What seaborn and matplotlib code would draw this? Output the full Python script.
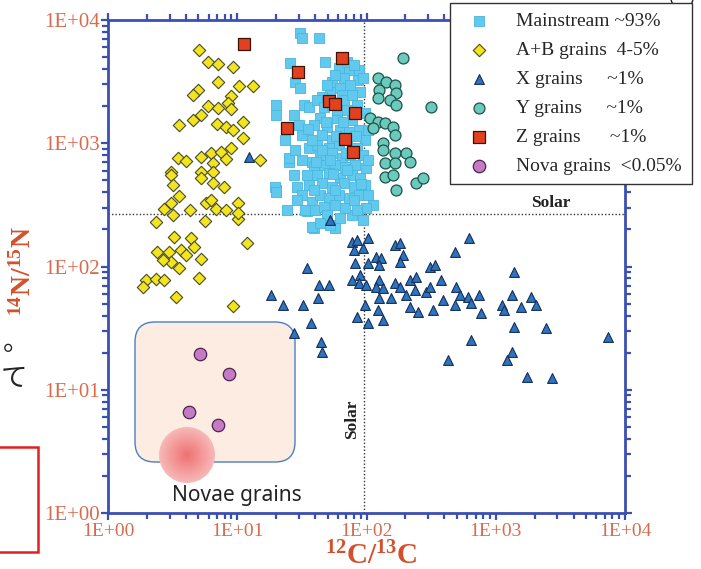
import matplotlib
matplotlib.use("Agg")
import matplotlib.pyplot as plt
import numpy as np
import pandas as pd
import seaborn as sns
from matplotlib.patches import FancyBboxPatch, Circle, Rectangle
from matplotlib.ticker import LogLocator, NullFormatter
from matplotlib.transforms import IdentityTransform

# 12C/13C and 14N/15N ratios, one pair of lists per grain type
mainstream_c = [30.4, 31.5, 43.0, 25.4, 47.9, 27.9, 30.4, 20.1, 20.1, 27.4, 32.8, 35.8,
                54.3, 61.6, 73.6, 67.3, 88.2, 86.6, 52.4, 45.3, 30.0, 25.0, 27.4, 20.1,
                37.8, 34.4, 39.2, 57.3, 112, 25.0, 27.9, 31.5, 39.2, 35.8, 19.5, 20.1,
                28.8, 31.5, 35.8, 37.8, 33.2, 39.9, 37.8, 52.4, 77.7, 98.3,
                57.3, 71.0, 80.5, 93.1, 49.7, 62.7, 75.0, 89.8,
                41.4, 47.0, 54.3, 64.9, 71.0, 85.1, 96.5, 43.7, 59.4, 77.7,
                39.2, 49.7, 62.7, 88.2, 45.3, 54.3, 71.0, 96.5, 41.4, 51.4, 61.6, 85.1,
                43.7, 54.3, 64.9, 75.0, 93.1, 47.0, 57.3, 68.5, 82.0, 98.3, 41.4, 51.4,
                62.7, 77.7, 89.8, 45.3, 54.3, 67.3, 80.5, 96.5, 43.7, 51.4, 61.6, 73.6,
                88.2, 47.0, 57.3, 68.5, 85.1, 62.7, 49.7, 93.1,
                23.3, 31.5, 34.4, 28.8, 24.1, 43.7, 59.4, 67.3, 77.7, 52.4, 71.0, 57.3,
                80.5, 102, 102, 102, 45.3, 37.8, 39.2,
                35.0, 48.5, 66.0, 58.0, 73.0, 83.5, 40.5, 55.5, 69.5, 91.0]
mainstream_n = [7810, 7110, 7110, 4470, 4550, 3130, 2800, 2035, 1690, 1690, 2035, 1960,
                3130, 4060, 3920, 3370, 3920, 3250, 2600, 2365, 1400, 703, 551, 417,
                703, 281, 205, 205, 315, 757, 879, 729, 640, 912, 441, 401,
                441, 379, 457, 333, 287, 287, 209, 217, 261, 298,
                3570, 4550, 4300, 3370, 2960, 2800, 2960, 2600,
                2240, 1960, 2035, 2455, 1855, 2035, 1755, 1600, 1600, 1540,
                1400, 1350, 1280, 1280, 1165, 1060, 1100, 1060, 966, 912, 966, 912,
                800, 832, 757, 800, 800, 664, 664, 640, 664, 628, 551, 572,
                521, 551, 521, 474, 441, 474, 441, 457, 379, 359, 379, 359,
                379, 303, 315, 298, 287, 247, 261, 238,
                1060, 1165, 551, 346, 287, 225, 1855, 2240, 2455, 729, 605, 417,
                346, 379, 1280, 729, 879, 1060, 417,
                1300, 1480, 1500, 1150, 1230, 1150, 700, 560, 830, 470]

ab_c = [5.05, 5.93, 7.1, 9.3, 7.1, 10.4, 13.3, 4.96, 4.53, 8.98, 5.93, 7.1, 8.5, 8.98,
        5.23, 4.53, 3.52, 6.98, 8.2, 9.3, 11.1, 11.1, 3.46, 4.0, 5.23, 6.26, 7.5, 8.98,
        8.2, 6.49, 14.9, 3.05, 5.23, 3.05, 5.23, 6.49, 6.49, 7.91, 3.16, 3.52, 3.05,
        2.69, 3.16, 2.33, 4.29, 5.72, 6.26, 6.85, 8.2, 10.2, 10.2, 5.62, 10.2, 3.22,
        4.37, 4.61, 11.8, 2.41, 2.94, 3.65, 4.0, 5.23, 3.05, 3.52, 2.64, 1.95, 2.33,
        2.69, 5.05, 1.88, 3.34, 9.3]
ab_n = [5690, 4550, 4380, 4140, 3130, 2900, 2900, 2700, 2455, 2410, 2000, 1930, 2115,
        1890, 1690, 1540, 1400, 1430, 1350, 1280, 1480, 1100, 757, 716, 771, 832, 847,
        912, 743, 690, 729, 583, 583, 551, 521, 583, 474, 441, 457, 372, 327, 292, 261,
        229, 287, 327, 346, 292, 287, 327, 242, 233, 271, 173, 170, 144, 155, 131, 131,
        136, 124, 115, 109, 97, 113, 77.6, 79, 77.6, 80.5, 68, 56.5, 47.7]

x_c = [12.4, 52.4, 34.6, 18.4, 22.5, 32.2, 43.0, 51.4, 42.2, 37.2, 27.4, 44.5, 45.3,
       77.7, 85.1, 102, 80.5, 93.1, 82.0, 102, 117.5, 129, 126, 165, 181, 191, 181,
       77.7, 89.8, 88.2, 98.3, 126, 117.5, 133, 165, 181, 217, 241, 202, 237, 311, 289,
       126, 154, 217, 250, 96.5, 122, 85.1, 102, 133,
       626, 487, 340, 1382, 379, 311, 496, 533, 392, 615, 736, 487, 649, 328, 763,
       1334, 1876, 1114, 1568, 2054, 1155, 1382, 2459, 649, 7360, 429, 1334, 1219,
       1746, 2738]
x_n = [771, 238, 97, 58.6, 48.6, 48.6, 70.7, 70.7, 55.4, 34.7, 28.8, 24.4, 20.2,
       158, 164, 170, 136, 141, 107, 107, 119, 117, 103, 149, 155, 124, 109,
       77.6, 85.1, 73.3, 70.7, 77.6, 68.1, 66.8, 73.3, 68.1, 77.6, 82.0, 58.6, 64.4, 98.9,
       62.0, 55.4, 55.4, 46.9, 42.7, 48.6, 44.3, 38.9, 34.7, 36.7,
       170, 131, 103, 90.1, 77.6, 68.1, 68.1, 58.6, 53.4, 56.5, 58.6, 48.6, 50.5, 44.3,
       41.9, 58.6, 56.5, 48.6, 46.9, 48.6, 44.3, 32.3, 31.7, 25.3, 26.8, 17.4, 20.2,
       17.4, 12.7, 12.4]

y_c = [191, 122, 141, 165, 169, 126, 122, 151, 169, 316, 107, 122, 138, 160, 112, 165,
       133, 133, 165, 202, 217, 138, 165, 138, 160, 169, 241, 274]
y_n = [4900, 3370, 3130, 2960, 2550, 2700, 2320, 2240, 2035, 1960, 1600, 1480, 1460,
       1350, 1320, 1165, 1000, 879, 832, 832, 703, 690, 690, 531, 551, 417, 474, 521]

z_c = [11.3, 64.9, 29.4, 51.4, 57.3, 82.0, 24.1, 68.5, 79.1]
z_n = [6370, 4900, 3770, 2195, 2075, 1755, 1325, 1080, 847]

nova_c = [5.14, 8.66, 4.22, 7.1]
nova_n = [19.5, 13.4, 6.6, 5.2]

solar_c = 95
solar_n = 265

groups = ["Mainstream ~93%", "A+B grains  4-5%", "X grains     ~1%",
          "Y grains     ~1%", "Z grains      ~1%", "Nova grains  <0.05%"]
group_c = [mainstream_c, ab_c, x_c, y_c, z_c, nova_c]
group_n = [mainstream_n, ab_n, x_n, y_n, z_n, nova_n]

frames = []
for g, c, n in zip(groups, group_c, group_n):
    frames.append(pd.DataFrame({"c_ratio": c, "n_ratio": n, "group": g}))
df = pd.concat(frames, ignore_index=True)

styles = {
    groups[0]: dict(marker="s", s=48, color="#62c9ee", edgecolor="#48b6e0", linewidth=0.6),
    groups[1]: dict(marker="D", s=40, color="#f2e41e", edgecolor="#4a4a20", linewidth=0.8),
    groups[2]: dict(marker="^", s=50, color="#2f72bd", edgecolor="#14305a", linewidth=0.8),
    groups[3]: dict(marker="o", s=62, color="#6ccabd", edgecolor="#1c524c", linewidth=0.9),
    groups[4]: dict(marker="s", s=72, color="#e2401f", edgecolor="#3a1408", linewidth=0.9),
    groups[5]: dict(marker="o", s=80, color="#c47bc3", edgecolor="#4f2250", linewidth=0.9),
}

sns.set_style("ticks")
plt.rcParams["font.family"] = ["Liberation Serif", "DejaVu Sans"]
plt.rcParams["mathtext.fontset"] = "custom"
plt.rcParams["mathtext.rm"] = "Liberation Serif"
plt.rcParams["mathtext.bf"] = "Liberation Serif:bold"

spine_col = "#3b4fb2"
label_col = "#d96a4e"
title_col = "#d4502c"

fig = plt.figure(figsize=(7.01, 5.69), dpi=100)
ax = fig.add_axes([0.1541, 0.0984, 0.7375, 0.8664])

for g in groups:
    sns.scatterplot(data=df[df["group"] == g], x="c_ratio", y="n_ratio",
                    label=g, ax=ax, zorder=3, **styles[g])

ax.set_xscale("log")
ax.set_yscale("log")
ax.set_xlim(1, 1e4)
ax.set_ylim(1, 1e4)

# solar reference lines
ax.axhline(solar_n, color="#333333", linestyle=(0, (1, 1.5)), linewidth=1, zorder=2)
ax.axvline(solar_c, color="#333333", linestyle=(0, (1, 1.5)), linewidth=1, zorder=2)
ax.text(2650, solar_n * 1.07, "Solar", ha="center", va="bottom", fontsize=12.5,
        fontweight="bold", color="#222222")
ax.text(solar_c / 1.06, 5.8, "Solar", ha="right", va="center", rotation=90,
        fontsize=12.5, fontweight="bold", color="#222222")

decades = [1, 10, 100, 1000, 10000]
dec_labels = ["1E+00", "1E+01", "1E+02", "1E+03", "1E+04"]
ax.set_xticks(decades)
ax.set_xticklabels(dec_labels)
ax.set_yticks(decades)
ax.set_yticklabels(dec_labels)
for axis in [ax.xaxis, ax.yaxis]:
    axis.set_minor_locator(LogLocator(base=10, subs=np.arange(2, 10)))
    axis.set_minor_formatter(NullFormatter())
ax.tick_params(which="both", direction="out", top=True, right=True,
               color=spine_col, width=1.6, labelcolor=label_col)
ax.tick_params(which="major", length=5)
ax.tick_params(which="minor", length=4)
ax.tick_params(axis="x", which="major", labelsize=14, pad=2)
ax.tick_params(axis="y", which="major", labelsize=15, pad=1)
for sp in ax.spines.values():
    sp.set_color(spine_col)
    sp.set_linewidth(2)
ax.set_xlabel("")
ax.set_ylabel("")

fig.text(23 / 701, 1 - 271 / 569, r"$\mathbf{{}^{14}N/{}^{15}N}$", rotation=90,
         ha="center", va="center", fontsize=20, color=title_col)
fig.text(371 / 701, 1 - 556 / 569, r"$\mathbf{{}^{12}C/{}^{13}C}$",
         ha="center", va="center", fontsize=21, color=title_col)

handles, labels = ax.get_legend_handles_labels()
ax.get_legend().remove()
leg = fig.legend(handles, labels, loc="upper left", bbox_to_anchor=(0.642, 0.995),
                 frameon=True, fancybox=False, edgecolor="#333333", framealpha=1,
                 fontsize=14, labelspacing=0.58, borderpad=0.5, handletextpad=0.9,
                 borderaxespad=0)
leg.get_frame().set_linewidth(1)

# novae highlight box (slide overlay)
ident = IdentityTransform()
box = FancyBboxPatch((135, 569 - 462), 160, 140, boxstyle="round,pad=0,rounding_size=20",
                     facecolor="#fcece2", edgecolor="#4a7fc4", linewidth=1,
                     transform=ident, zorder=1, clip_on=False)
ax.add_patch(box)
outer = np.array([247, 184, 184]) / 255
inner = np.array([238, 112, 112]) / 255
for r in np.linspace(28, 2, 27):
    t = 1 - r / 28
    ax.add_patch(Circle((187, 569 - 455), r, facecolor=outer + (inner - outer) * t,
                        edgecolor="none", transform=ident, zorder=1.5, clip_on=False))
fig.text(237 / 701, 1 - 496 / 569, "Novae grains", ha="center", va="center",
         fontsize=15, family="Noto Sans", color="#222222")

# slide fragments at the left edge
fig.text(1 / 701, 1 - 378 / 569, "て", ha="left", va="center", fontsize=19,
         family=["Noto Sans CJK JP", "DejaVu Sans"], color="#222222")
fig.text(3 / 701, 1 - 343 / 569, "。", ha="left", va="center", fontsize=19,
         family=["Noto Sans CJK JP", "DejaVu Sans"], color="#222222")
fig.add_artist(Rectangle((-10 / 701, 1 - 552 / 569), 48 / 701, 105 / 569,
                         transform=fig.transFigure, fill=False, edgecolor="#e02020",
                         linewidth=1.8))
fig.add_artist(Circle((682, 569 + 2), 11, transform=ident, fill=False,
                      edgecolor="#222222", linewidth=1))

fig.savefig("out.png", dpi=100)
